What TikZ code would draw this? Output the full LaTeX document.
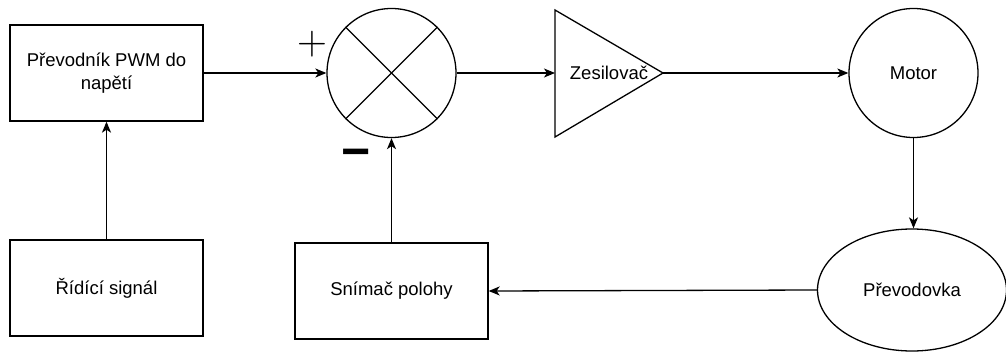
\documentclass[tikz,border=0pt]{standalone}
\usepackage{fontspec}
\setmainfont{Liberation Sans}
\usetikzlibrary{shapes.geometric,arrows.meta}
\begin{document}
\begin{tikzpicture}[x=1pt,y=-1pt, line width=1.3pt,
  >={Stealth[length=11pt,width=9pt,inset=3pt]},
  every node/.style={font=\fontsize{18.5}{23}\selectfont},
  blockbox/.style={draw, rectangle, minimum width=193pt, minimum height=96pt, align=center, inner sep=0pt},
  roundblock/.style={draw, circle, minimum size=129pt, inner sep=0pt},
  conn/.style={->}]
\useasboundingbox (0,0) rectangle (1006,353);
\node[blockbox] (pwm) at (106.5,73) {Převodník PWM do\\napětí};
\node[blockbox] (rid) at (106.5,288) {Řídící signál};
\node[blockbox] (snim) at (391.5,291) {Snímač polohy};
\node[roundblock] (sum) at (391.5,73) {};
\draw (sum.45) -- (sum.225);
\draw (sum.135) -- (sum.315);
\coordinate (ampin) at (555,73);
\coordinate (ampout) at (663,73);
\draw (555,10) -- (ampout) -- (555,137) -- cycle;
\node (amptext) at (609,73) {Zesilovač};
\node[roundblock] (motor) at (913.5,73) {Motor};
\node[draw, ellipse, minimum width=189pt, minimum height=122pt, inner sep=0pt] (gear) at (912,290) {Převodovka};
\node[inner sep=0pt] (plus) at (312,44) {\scalebox{2.4}{$+$}};
\node[font=\bfseries\fontsize{50}{50}\selectfont, inner sep=0pt] (minus) at (356,159) {−};
\draw[conn] (rid.north) -- (pwm.south);
\draw[conn] (pwm.east) -- (sum.west);
\draw[conn] (sum.east) -- (ampin);
\draw[conn] (ampout) -- (motor.west);
\draw[conn] (motor.south) -- (motor.south |- gear.north);
\draw[conn] (gear.west) -- (snim.east);
\draw[conn] (snim.north) -- (sum.south);
\end{tikzpicture}
\end{document}
